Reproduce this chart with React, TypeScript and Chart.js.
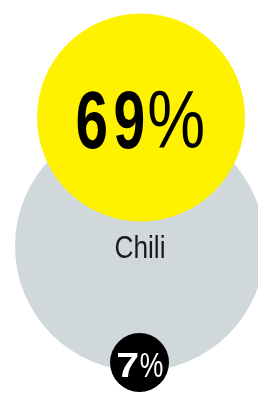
import React, { useEffect, useRef } from "react";
import { Chart, registerables } from "chart.js";

Chart.register(...registerables);

// ---- data ----
const categoryLabel = "Chili";
const seriesNames = ["Total", "Yes", "Other"];
const seriesValues = [100, 69, 7];
const valueLabels = ["", "69%", "7%"];

// ---- layout / style (not data) ----
const W = 258;
const H = 394;
const centersX = [140, 141, 139.5];
const centersY = [246, 117.5, 362.5];
const radii = [125, 104, 29.5];
const colors = ["#d1d8dc", "#fff200", "#000000"];
const FONT = "'Liberation Sans', sans-serif";

type GlyphStyle = { size: number; digitWeight: string; pctWeight: string; digitW: number; pctW: number; gaps: number[]; dy: number; color: string; dx: number };

const bigStyle: GlyphStyle = { size: 82, digitWeight: "bold", pctWeight: "normal", digitW: 28.5, pctW: 54, gaps: [8.7, 5.5], dy: 30.5, color: "#000", dx: -0.7 };
const smallStyle: GlyphStyle = { size: 35, digitWeight: "bold", pctWeight: "normal", digitW: 20, pctW: 22, gaps: [3], dy: 14.5, color: "#fff", dx: 0.5 };

function drawCondensed(ctx: CanvasRenderingContext2D, text: string, cx: number, baseY: number, st: GlyphStyle) {
  ctx.save();
  ctx.textAlign = "left";
  ctx.textBaseline = "alphabetic";
  const chars = text.split("");
  const items = chars.map((ch) => {
    const isPct = ch === "%";
    const font = `${isPct ? st.pctWeight : st.digitWeight} ${st.size}px ${FONT}`;
    ctx.font = font;
    const m = ctx.measureText(ch);
    const left = m.actualBoundingBoxLeft;
    const right = m.actualBoundingBoxRight;
    const vis = left + right;
    const target = isPct ? st.pctW : st.digitW;
    const sx = target / vis;
    return { ch, font, left, sx, w: target };
  });
  const gapAt = (i: number) => st.gaps[i] ?? st.gaps[st.gaps.length - 1];
  let total = 0;
  items.forEach((it, i) => {
    total += it.w;
    if (i < items.length - 1) total += gapAt(i);
  });
  let x = cx + st.dx - total / 2;
  ctx.fillStyle = st.color;
  items.forEach((it, i) => {
    ctx.save();
    ctx.translate(x, baseY);
    ctx.scale(it.sx, 1);
    ctx.font = it.font;
    ctx.fillText(it.ch, it.left, 0);
    ctx.restore();
    x += it.w;
    if (i < items.length - 1) x += gapAt(i);
  });
  ctx.restore();
}

const labelPlugin = {
  id: "bubbleLabels",
  afterDatasetsDraw(chart: any) {
    const ctx: CanvasRenderingContext2D = chart.ctx;
    const meta = chart.getDatasetMeta(0);
    const grey = meta.data[0];
    const yellow = meta.data[1];
    const black = meta.data[2];

    ctx.save();
    ctx.translate(grey.x, grey.y + 12);
    ctx.scale(0.82, 1);
    ctx.font = `normal 32px ${FONT}`;
    ctx.fillStyle = "#1a1a1a";
    ctx.textAlign = "center";
    ctx.textBaseline = "alphabetic";
    ctx.fillText(categoryLabel, 0, 0);
    ctx.restore();

    drawCondensed(ctx, valueLabels[1], yellow.x, yellow.y + bigStyle.dy, bigStyle);
    drawCondensed(ctx, valueLabels[2], black.x, black.y + smallStyle.dy, smallStyle);
  },
};

export default function App() {
  const ref = useRef<HTMLCanvasElement>(null);
  useEffect(() => {
    document.body.style.margin = "0";
    const canvas = ref.current!;
    const chart = new Chart(canvas, {
      type: "bubble",
      data: {
        datasets: [
          {
            label: categoryLabel,
            data: seriesValues.map((v, i) => ({ x: centersX[i], y: centersY[i], r: radii[i], v })),
            backgroundColor: colors,
            borderWidth: 0,
            hoverBorderWidth: 0,
            clip: false as any,
          },
        ],
      },
      options: {
        responsive: false,
        animation: false,
        devicePixelRatio: 1,
        layout: { padding: 0, autoPadding: false },
        plugins: {
          legend: { display: false },
          tooltip: { enabled: false },
        },
        events: [],
        scales: {
          x: { type: "linear", display: false, min: 0, max: W },
          y: { type: "linear", display: false, min: 0, max: H, reverse: true },
        },
      },
      plugins: [labelPlugin],
    });
    return () => chart.destroy();
  }, []);
  return (
    <div style={{ width: W, height: H, position: "relative", background: "#fff" }}>
      <canvas ref={ref} width={W} height={H} aria-label={seriesNames.join(", ")} />
    </div>
  );
}
